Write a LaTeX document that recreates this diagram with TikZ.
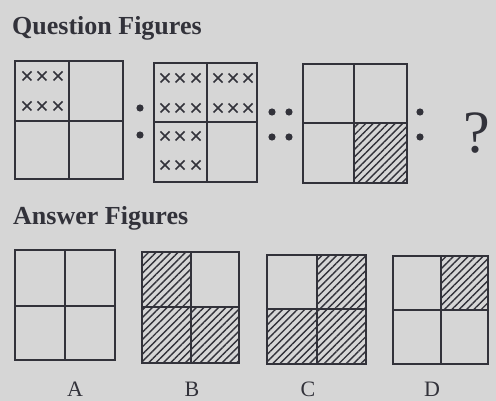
\documentclass[tikz,border=0pt]{standalone}
\usepackage{fontspec}
\setmainfont{Liberation Serif}
\usetikzlibrary{patterns.meta}

\definecolor{paper}{RGB}{214,214,214}
\definecolor{ink}{RGB}{50,50,58}

\tikzset{
  frame/.style={draw=ink, line width=1.7pt},
  hatch/.style={pattern={Lines[angle=45,distance=5.2pt,line width=1.4pt]}, pattern color=ink},
  cross/.style={draw=ink, line width=1.7pt},
  heading/.style={font=\bfseries\fontsize{26}{28}\selectfont, text=ink, anchor=base west, inner sep=0pt},
  letter/.style={font=\fontsize{22}{24}\selectfont, text=ink, anchor=base, inner sep=0pt},
  dot/.style={fill=ink}
}

% square split in four: corners, then the two middle lines
\newcommand{\quadbox}[6]{\draw[frame] (#1,#2) rectangle (#3,#4) (#5,#2) -- (#5,#4) (#1,#6) -- (#3,#6);}
\newcommand{\xmark}[2]{\draw[cross] (#1-4.5,#2-4.5) -- (#1+4.5,#2+4.5) (#1-4.5,#2+4.5) -- (#1+4.5,#2-4.5);}

\begin{document}
\begin{tikzpicture}[x=1pt,y=-1pt]
            \path[use as bounding box, fill=paper] (0,0) rectangle (496,401);

            % Headings
            \node[heading] (qhead) at (12,35) {Question Figures};
            \node[heading] (ahead) at (13,225) {Answer Figures};

            % Question figure 1
            \quadbox{15}{61}{123}{179}{69}{121}
            \foreach \x in {27,42,58} \foreach \y in {76,106} {\xmark{\x}{\y}}
            \fill[dot] (140,108) circle (3.6) (140,135) circle (3.6);

            % Question figure 2
            \quadbox{154}{63}{257}{182}{207}{122}
            \foreach \x in {165,180,196} \foreach \y in {78,108,136,165} {\xmark{\x}{\y}}
            \foreach \x in {218,233,248} \foreach \y in {78,108} {\xmark{\x}{\y}}
            \fill[dot] (272,112) circle (3.6) (289,112) circle (3.6)
                       (272,137) circle (3.6) (289,137) circle (3.6);

            % Question figure 3
            \fill[hatch] (354,123) rectangle (407,183);
            \quadbox{303}{64}{407}{183}{354}{123}
            \fill[dot] (420,112) circle (3.6) (420,137) circle (3.6);
            \node[font=\fontsize{60}{62}\selectfont, text=ink, anchor=base, inner sep=0pt] (qmark) at (477,153) {?};

            % Answer figures
            \quadbox{15}{250}{115}{360}{65}{306}
            \node[letter] (la) at (75,396) {A};

            \fill[hatch] (142,252) rectangle (191,363) (191,307) rectangle (239,363);
            \quadbox{142}{252}{239}{363}{191}{307}
            \node[letter] (lb) at (192,396) {B};

            \fill[hatch] (317,255) rectangle (366,364) (267,309) rectangle (317,364);
            \quadbox{267}{255}{366}{364}{317}{309}
            \node[letter] (lc) at (308,396) {C};

            \fill[hatch] (441,256) rectangle (488,310);
            \quadbox{393}{256}{488}{364}{441}{310}
            \node[letter] (ld) at (432,396) {D};
        \end{tikzpicture}
\end{document}
